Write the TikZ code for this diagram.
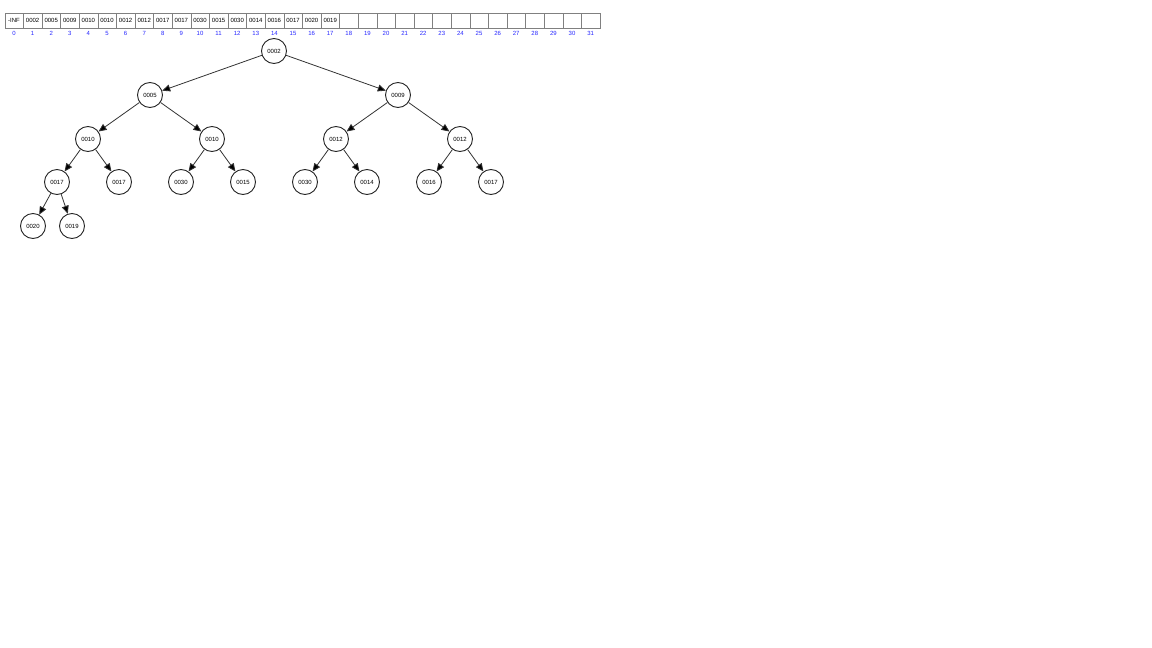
\documentclass[tikz,border=0pt]{standalone}
\usepackage{fontspec}
\setmainfont{Liberation Sans}
\usetikzlibrary{arrows.meta}
\tikzset{   cell/.style = {rectangle, draw = gray, fill = white, minimum width = 18.6pt, minimum height = 15.5pt, inner sep = 0pt, font = \fontsize{6}{7}\selectfont},
            idx/.style = {text = blue!85, inner sep = 0pt, font = \fontsize{6}{7}\selectfont},
            heap/.style = {circle, draw = black!85, line width = 0.9pt, fill = white, minimum size = 25pt, inner sep = 0pt, font = \fontsize{6}{7}\selectfont},
            edge/.style = {draw = black!80, line width = 0.8pt, -{Triangle[length=8pt, width=7pt, fill=black]}}}

\begin{document}
\begin{tikzpicture}[x=1pt, y=-1pt]
                        \useasboundingbox (0,0) rectangle (1152,648);
                        % the array
                        \foreach \v [count=\i from 0] in {-INF,0002,0005,0009,0010,0010,0012,0012,0017,0017,0030,0015,0030,0014,0016,0017,0020,0019}{
                          \node[cell] (c\i) at ({14+18.6*\i},20.75) {\v};
                          \node[idx] (i\i) at ({14+18.6*\i},33.5) {\i};
                        }
                        \foreach \i in {18,...,31}{
                          \node[cell] (c\i) at ({14+18.6*\i},20.75) {};
                          \node[idx] (i\i) at ({14+18.6*\i},33.5) {\i};
                        }
                        % the tree
                        \node[heap] (n1) at (274,51) {0002};
                        \node[heap] (n2) at (150,95) {0005};
                        \node[heap] (n3) at (398,95) {0009};
                        \node[heap] (n4) at (88,139) {0010};
                        \node[heap] (n5) at (212,139) {0010};
                        \node[heap] (n6) at (336,139) {0012};
                        \node[heap] (n7) at (460,139) {0012};
                        \node[heap] (n8) at (57,182) {0017};
                        \node[heap] (n9) at (119,182) {0017};
                        \node[heap] (n10) at (181,182) {0030};
                        \node[heap] (n11) at (243,182) {0015};
                        \node[heap] (n12) at (305,182) {0030};
                        \node[heap] (n13) at (367,182) {0014};
                        \node[heap] (n14) at (429,182) {0016};
                        \node[heap] (n15) at (491,182) {0017};
                        \node[heap] (n16) at (33,226) {0020};
                        \node[heap] (n17) at (72,226) {0019};
                        \foreach \c in {2,...,17}{
                          \pgfmathtruncatemacro\p{\c/2}
                          \draw[edge] (n\p) -- (n\c);
                        }
                      \end{tikzpicture}
\end{document}
